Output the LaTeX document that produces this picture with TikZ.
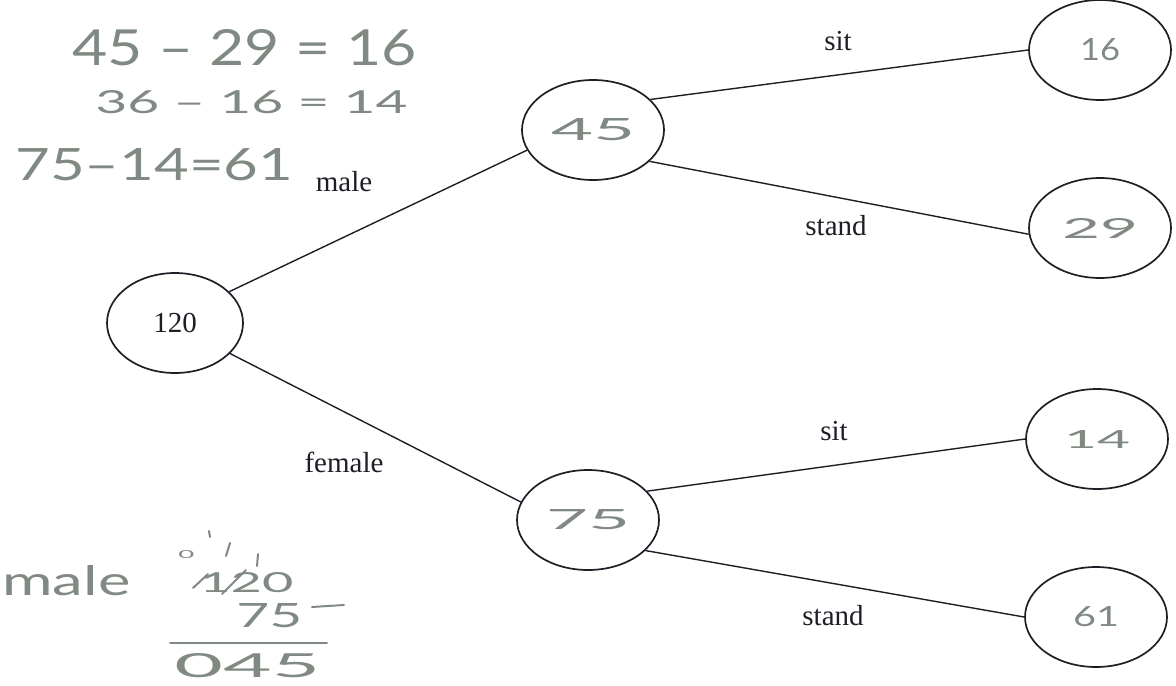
\documentclass[tikz,border=0pt]{standalone}
\usepackage{fontspec}
\usepackage{graphicx}
\setmainfont{Liberation Serif}
\newfontfamily\handfont{Lato}
\usetikzlibrary{shapes.geometric}
\definecolor{hand}{RGB}{128,138,130}
\definecolor{ink}{RGB}{30,30,38}
\tikzset{
  bubble/.style={ellipse, draw=ink, line width=0.85pt, minimum width=#1, inner sep=0pt},
  bubble/.default=71pt,
  child/.style={bubble=71pt, minimum height=50pt},
  printed/.style={font=\fontsize{14.5}{16}\selectfont, text=ink, inner sep=0pt, anchor=base},
  handtxt/.style={font=\handfont, text=hand, inner sep=0pt, anchor=base west},
  branch/.style={draw=ink, line width=0.7pt},
  handline/.style={draw=hand, line width=1pt, line cap=round}
}
\begin{document}
\begin{tikzpicture}[x=0.5pt, y=-0.5pt]
\useasboundingbox (0,0) rectangle (1176,685);
% tree nodes
\node[bubble=68pt, minimum height=50pt] (root) at (175,323) {\fontsize{14.5}{16}\selectfont\color{ink}120};
\node[child] (m) at (593,130) {\handfont\color{hand}\resizebox{42pt}{11pt}{45}};
\node[child] (f) at (588,520) {\handfont\color{hand}\resizebox{42pt}{10pt}{75}};
\node[child] (ms) at (1100,50) {\handfont\color{hand}\resizebox{20pt}{11pt}{16}};
\node[child] (mt) at (1100,228) {\handfont\color{hand}\resizebox{38pt}{10pt}{29}};
\node[child] (fs) at (1097,439) {\handfont\color{hand}\resizebox{33pt}{9pt}{14}};
\node[child] (ft) at (1096,617) {\handfont\color{hand}\resizebox{23pt}{10pt}{61}};
% branches
\draw[branch] (root.30) -- (m.197);
\draw[branch] (root.-29) -- (f.165);
\draw[branch] (m.28) -- (ms.west);
\draw[branch] (m.-29) -- (mt.185);
\draw[branch] (f.26) -- (fs.west);
\draw[branch] (f.-28) -- (ft.west);
% branch labels
\node[printed] (lmale) at (344,191) {male};
\node[printed] (lfemale) at (344,472) {female};
\node[printed] (lsit1) at (838,50) {sit};
\node[printed] (lstand1) at (836,235) {stand};
\node[printed] (lsit2) at (834,440) {sit};
\node[printed] (lstand2) at (833,625) {stand};
% handwritten working, top left
\node[handtxt] (w1) at (72,65) {\resizebox{172pt}{18pt}{45 – 29 = 16}};
\node[handtxt] (w2) at (95,113) {\resizebox{156pt}{11.5pt}{36 – 16 = 14}};
\node[handtxt] (w3) at (15,180) {\resizebox{139pt}{16pt}{75–14=61}};
% handwritten working, bottom left
\node[handtxt] (hm) at (2,595) {\resizebox{64pt}{15pt}{male}};
\node[handtxt] (h120) at (199,592) {\resizebox{47pt}{10pt}{120}};
\draw[handline] (193,588) -- (208,574);
\draw[handline] (222,594) -- (246,570);
\node[handtxt] (hb0) at (178,558) {\resizebox{8pt}{4pt}{0}};
\draw[handline] (209,531) -- (210,537);
\draw[handline] (230,543) -- (226,556);
\draw[handline] (258,554) -- (257,566);
\node[handtxt] (h75) at (236,627) {\resizebox{33pt}{12pt}{75}};
\draw[handline] (312,607) -- (344,605);
\draw[handline] (170,643) -- (327,643);
\node[handtxt] (h045) at (174,677) {\resizebox{73pt}{12pt}{045}};
\end{tikzpicture}
\end{document}
